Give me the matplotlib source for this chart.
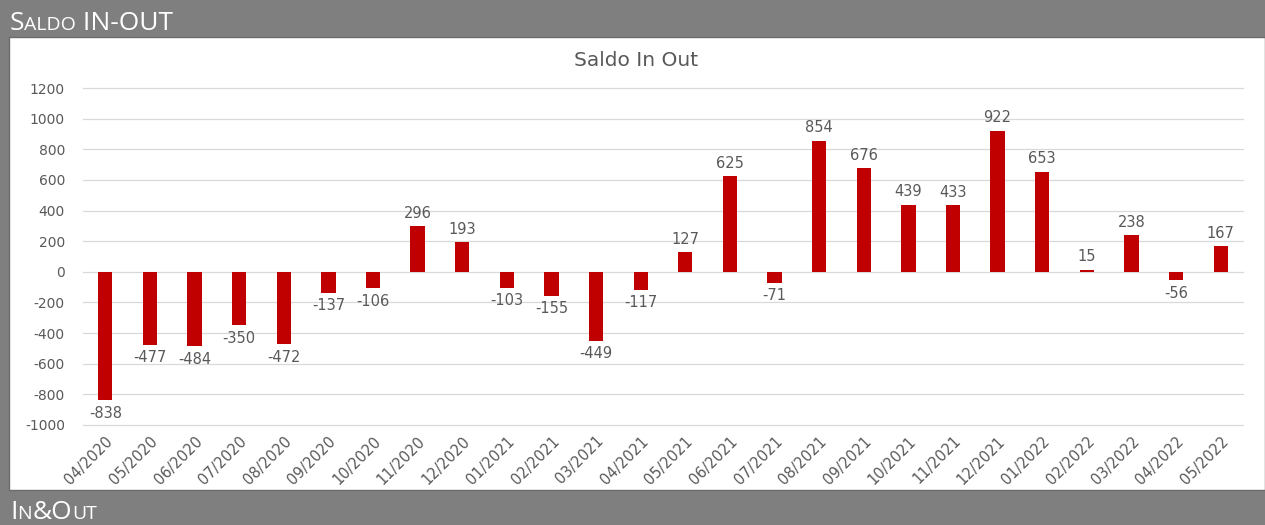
import matplotlib.pyplot as plt
from matplotlib.patches import Rectangle

plt.rcParams['font.family'] = ['Open Sans', 'DejaVu Sans']

months = ['04/2020', '05/2020', '06/2020', '07/2020', '08/2020', '09/2020',
          '10/2020', '11/2020', '12/2020', '01/2021', '02/2021', '03/2021',
          '04/2021', '05/2021', '06/2021', '07/2021', '08/2021', '09/2021',
          '10/2021', '11/2021', '12/2021', '01/2022', '02/2022', '03/2022',
          '04/2022', '05/2022']
saldo = [-838, -477, -484, -350, -472, -137, -106, 296, 193, -103, -155, -449,
         -117, 127, 625, -71, 854, 676, 439, 433, 922, 653, 15, 238, -56, 167]
y_ticks = [-1000, -800, -600, -400, -200, 0, 200, 400, 600, 800, 1000, 1200]

grey = '#7f7f7f'
txt = '#595959'
chart_font = 'DejaVu Sans'  # wide glyphs, closer to the stretched look

fig = plt.figure(figsize=(12.65, 5.25), dpi=100, facecolor=grey)

# white panel
fig.patches.append(Rectangle((9 / 1265, 35 / 525), 1 - 9 / 1265, (490 - 37) / 525,
                             transform=fig.transFigure, facecolor='white',
                             edgecolor='#6b6b6b', linewidth=1.0, zorder=0))


def small_caps(x, y, parts, big=19, small=14):
    # draw a string in small caps: list of (text, is_big)
    fig.canvas.draw()
    r = fig.canvas.get_renderer()
    for s, is_big in parts:
        t = fig.text(x, y, s, color='white', fontsize=big if is_big else small,
                     va='baseline', ha='left', family='Open Sans')
        bb = t.get_window_extent(renderer=r)
        x += bb.width / fig.bbox.width


small_caps(10 / 1265, 1 - 30 / 525, [('S', True), ('ALDO', False), (' IN-OUT', True)])
small_caps(10 / 1265, 6 / 525, [('I', True), ('N', False), ('&O', True), ('UT', False)])

ax = fig.add_axes([83 / 1265, 100 / 525, 1160 / 1265, 337 / 525], zorder=2)
ax.set_facecolor('none')
x = range(len(months))
bars = ax.bar(x, saldo, width=0.32, color='#c00000', zorder=3)

for xi, v in zip(x, saldo):
    off = 4 if v >= 0 else -4
    ax.annotate(str(v), (xi, v), xytext=(0, off), textcoords='offset points',
                ha='center', va='bottom' if v >= 0 else 'top', fontsize=10.5,
                color=txt, family=chart_font)

ax.set_xlim(-0.5, len(months) - 0.5)
ax.set_ylim(-1000, 1200)
ax.set_yticks(y_ticks)
ax.set_yticklabels([str(t) for t in y_ticks], fontsize=10, color=txt, family=chart_font)
ax.set_xticks(list(x))
ax.set_xticklabels(months, rotation=45, ha='right', rotation_mode='anchor',
                   fontsize=10.5, color=txt, family=chart_font)
ax.tick_params(axis='both', length=0)
ax.tick_params(axis='y', pad=13)
ax.tick_params(axis='x', pad=6)
ax.grid(axis='y', color='#d9d9d9', linewidth=0.9, zorder=0)
for gl in ax.get_ygridlines():
    gl.set_clip_on(False)
for s in ax.spines.values():
    s.set_visible(False)

fig.text(636 / 1265, 1 - 60 / 525, 'Saldo In Out', ha='center', va='center',
         fontsize=14.5, color=txt, family=chart_font)

fig.savefig('out.png', dpi=100, facecolor=grey)
